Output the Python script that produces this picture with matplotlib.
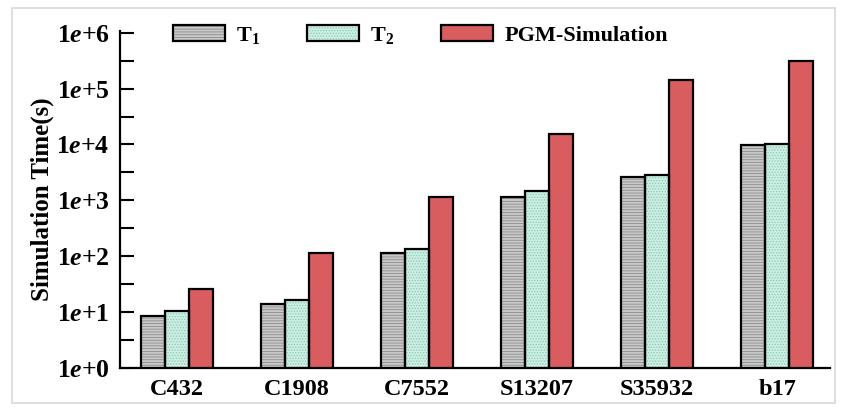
import matplotlib
matplotlib.use("Agg")
import matplotlib.pyplot as plt
import numpy as np
from matplotlib.patches import Patch, Rectangle
from matplotlib.legend_handler import HandlerTuple

plt.rcParams['mathtext.fontset'] = 'custom'
plt.rcParams['mathtext.rm'] = 'Liberation Serif:bold'
plt.rcParams['mathtext.bf'] = 'Liberation Serif:bold'
plt.rcParams['mathtext.it'] = 'Liberation Serif:italic:bold'
plt.rcParams['font.family'] = 'Liberation Serif'
plt.rcParams['font.weight'] = 'bold'
plt.rcParams['hatch.linewidth'] = 0.6

categories = ["C432", "C1908", "C7552", "S13207", "S35932", "b17"]
t1 = [8.5, 14, 116, 1140, 2570, 9600]
t2 = [10.4, 16.3, 132, 1450, 2830, 10200]
pgm = [26.4, 115, 1150, 15200, 143000, 315000]
series_labels = [r"$\mathrm{T}_{1}$", r"$\mathrm{T}_{2}$", "PGM-Simulation"]
ytick_vals = [1e0, 1e1, 1e2, 1e3, 1e4, 1e5, 1e6]
ytick_labels = [r"$\mathrm{1}\mathit{e}\mathrm{+%d}$" % k for k in range(7)]

styles = [
    dict(fc="#c9c9c9", hatch="------", hc="#8c8c8c"),
    dict(fc="#cdeee2", hatch="......", hc="#86cdb2"),
    dict(fc="#d95c5f", hatch="", hc="#d95c5f"),
]

fig = plt.figure(figsize=(8.42, 4.09), dpi=100)
W, H = 842, 409
fig.patches.append(Rectangle((12 / W, 1 - 403 / H), (835 - 12) / W, (403 - 8) / H,
                             transform=fig.transFigure, fill=False,
                             edgecolor="#d8d8d8", linewidth=1.2))
ax = fig.add_axes([119.5 / W, 1 - 368 / H, (830 - 119.5) / W, (368 - 31) / H])

x = np.arange(len(categories))
w = 0.2
handles = []
for i, (vals, st) in enumerate(zip([t1, t2, pgm], styles)):
    pos = x + (i - 1) * w
    ax.bar(pos, vals, w, bottom=0, color=st["fc"], hatch=st["hatch"] or None,
           edgecolor=st["hc"], linewidth=0, zorder=2)
    ax.bar(pos, vals, w, bottom=0, fill=False, edgecolor="black", linewidth=1.6, zorder=3)
    h1 = Patch(facecolor=st["fc"], hatch=st["hatch"] or None, edgecolor=st["hc"], linewidth=0)
    h2 = Patch(fill=False, edgecolor="black", linewidth=1.6)
    handles.append((h1, h2))

ax.set_yscale("log")
ax.set_ylim(1, 10 ** 6.03)
ax.set_xlim(-0.479, 5.44)
ax.set_yticks(ytick_vals)
ax.set_yticklabels(ytick_labels, fontsize=18.5)
ax.set_yticks([10 ** (k + 0.5) for k in range(6)], minor=True)
ax.yaxis.set_minor_formatter(matplotlib.ticker.NullFormatter())
ax.tick_params(axis="y", which="both", direction="in", length=10, width=1.5, pad=7)
ax.set_xticks(x)
ax.set_xticklabels(categories, fontsize=17.5, fontweight="bold")
ax.tick_params(axis="x", length=0, pad=8)
for s in ["top", "right"]:
    ax.spines[s].set_visible(False)
for s in ["left", "bottom"]:
    ax.spines[s].set_linewidth(1.6)
ax.set_ylabel("Simulation Time(s)", fontsize=18, fontweight="bold", labelpad=2)

leg = ax.legend(handles, series_labels, handler_map={tuple: HandlerTuple(ndivide=1, pad=0)},
                ncol=3, frameon=False, loc="upper left",
                bbox_to_anchor=((153 - 119.5) / (830 - 119.5), 1.077),
                prop={"family": "Liberation Serif", "weight": "bold", "size": 16},
                handlelength=2.35, handleheight=0.72, handletextpad=0.5, columnspacing=2.1)

fig.savefig("out.png", dpi=100)
